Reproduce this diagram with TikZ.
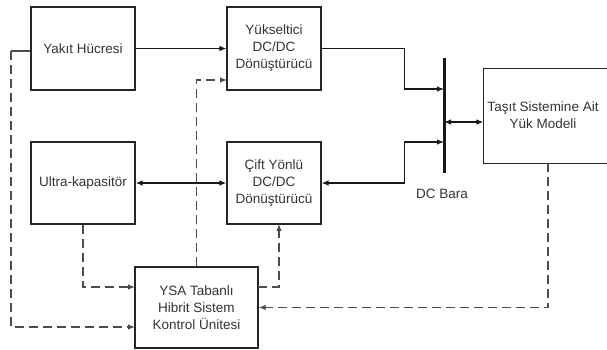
\documentclass[tikz,border=0pt]{standalone}
\usepackage{fontspec}
\setmainfont{Liberation Sans}
\usetikzlibrary{arrows.meta}
\begin{document}
\begin{tikzpicture}[x=1pt,y=-1pt,
  txt/.style={align=center, font=\fontsize{13.5}{17}\selectfont, text=black!80},
  blk/.style={txt, draw=black!85, line width=1.2pt, inner sep=0pt},
  tip/.style={-{Latex[length=7pt,width=5.5pt]}},
  sl/.style={draw=black!90, line width=1.1pt, tip},
  bl/.style={draw=black!90, line width=1.1pt, {Latex[length=7pt,width=5.5pt]}-{Latex[length=7pt,width=5.5pt]}},
  dl/.style={draw=black!70, line width=1.2pt, dash pattern=on 9pt off 5pt, tip}]
\useasboundingbox (0,0) rectangle (607,349);
\node[blk, minimum width=104pt, minimum height=83pt] (yakit) at (83,48.5) {Yakıt Hücresi};
\node[blk, minimum width=94pt, minimum height=83pt] (yuk) at (274,48.5) {Yükseltici\\DC/DC\\Dönüştürücü};
\node[blk, minimum width=104pt, minimum height=82pt] (ultra) at (83,183) {Ultra-kapasitör};
\node[blk, minimum width=94pt, minimum height=82pt] (cift) at (274,183) {Çift Yönlü\\DC/DC\\Dönüştürücü};
\node[blk, minimum width=123pt, minimum height=81pt] (ysa) at (196.5,307.5) {YSA Tabanlı\\Hibrit Sistem\\Kontrol Ünitesi};
\node[blk, draw=none, minimum width=136pt, minimum height=94pt] (tasit) at (552,116) {};
\draw[draw=black!85, line width=1.2pt] (tasit.north east) -- (tasit.north west) -- (tasit.south west) -- (tasit.south east);
\node[txt] (tasittxt) at (543,115) {Taşıt Sistemine Ait\\Yük Modeli};
\coordinate (bt) at (444,58);
\coordinate (bb) at (444,173);
\draw[line width=3pt, black!90] (bt) -- (bb);
\node[txt] (bara) at (442,194) {DC Bara};
\coordinate (b1) at (444,89);
\coordinate (b2) at (444,142);
\coordinate (b3) at (444,122);
% solid connectors
\draw[sl] (yakit) -- (yuk);
\draw[sl] (yuk.east) -- ++(83,0) |- (b1);
\draw[bl] (cift.east) -- ++(83,0) |- (b2);
\draw[bl] (b3) -- (tasit.west |- b3);
\draw[bl] (ultra) -- (cift);
% dashed connectors
\coordinate (c1) at (11,51);
\coordinate (y1) at (135,327);
\coordinate (y2) at (135,287);
\coordinate (y3) at (258,287);
\coordinate (cs) at (279,224);
\coordinate (ts) at (548,163);
\coordinate (yw) at (227,80);
\draw[draw=black!70, line width=1.1pt] (yakit.west |- c1) -- (c1);
\draw[dl] (c1) |- (y1);
\draw[dl] (ultra.south) |- (y2);
\draw[dl] (ysa.north) |- (yw);
\draw[dl] (y3) -| (cs);
\draw[dl] (ts) |- (ysa.east);
\end{tikzpicture}
\end{document}
